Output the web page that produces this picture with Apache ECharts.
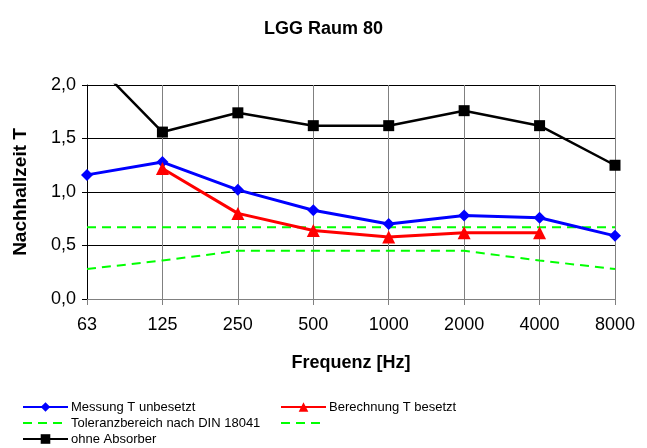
<!DOCTYPE html>
<html>
<head>
<meta charset="utf-8">
<script src="https://cdn.jsdelivr.net/npm/echarts@6/dist/echarts.min.js"></script>
<style>
html,body{margin:0;padding:0;background:#fff;}
#c{width:647px;height:448px;}
</style>
</head>
<body>
<div id="c"></div>
<script>
var categories = ['63','125','250','500','1000','2000','4000','8000'];
var messung = [1.16, 1.28, 1.02, 0.83, 0.70, 0.78, 0.76, 0.59];
var berechnung = ['-', 1.22, 0.80, 0.64, 0.58, 0.62, 0.62, '-'];
var tolUnten = [0.28, 0.36, 0.45, 0.45, 0.45, 0.45, 0.36, 0.28];
var tolOben = [0.67, 0.67, 0.67, 0.67, 0.67, 0.67, 0.67, 0.67];
var ohneAbsorber = [2.28, 1.56, 1.74, 1.62, 1.62, 1.76, 1.62, 1.25];

var FF = "'Liberation Sans', Arial, sans-serif";
var chart = echarts.init(document.getElementById('c'), null, {renderer:'canvas'});

function leg(name, left, centerY, extra) {
  var item = {name: name};
  if (extra) { for (var k in extra) item[k] = extra[k]; }
  return {
    orient: 'horizontal', left: left, top: centerY - 8, padding: 0,
    itemWidth: 45, itemHeight: 12, itemGap: 0,
    textStyle: {fontFamily: FF, fontSize: 13, color: '#000', padding: [0, 0, 0, -2], lineHeight: 16},
    selectedMode: false,
    data: [item]
  };
}
var hideSym = {itemStyle: {opacity: 0}};

var option = {
  animation: false,
  backgroundColor: '#fff',
  title: {
    text: 'LGG Raum 80', left: 'center', top: 15,
    textStyle: {fontFamily: FF, fontSize: 18, fontWeight: 'bold', color: '#000'}
  },
  grid: {left: 87, right: 32, top: 85, bottom: 149, containLabel: false},
  legend: [
    leg('Messung T unbesetzt', 22, 407),
    leg('Toleranzbereich nach DIN 18041', 22, 423, hideSym),
    leg('ohne Absorber', 22, 439),
    leg('Berechnung T besetzt', 280, 407),
    leg(' ', 280, 423, hideSym)
  ],
  xAxis: {
    type: 'category', data: categories, boundaryGap: false,
    name: 'Frequenz [Hz]', nameLocation: 'middle', nameGap: 55,
    nameTextStyle: {fontFamily: FF, fontSize: 18, fontWeight: 'bold', color: '#000'},
    axisLine: {show: true, lineStyle: {color: '#808080', width: 1}},
    axisTick: {show: true, alignWithLabel: true, length: 6, lineStyle: {color: '#808080'}},
    axisLabel: {fontFamily: FF, fontSize: 18, color: '#000', margin: 17},
    splitLine: {show: true, lineStyle: {color: '#808080', width: 1}}
  },
  yAxis: {
    type: 'value', min: 0, max: 2, interval: 0.5,
    name: 'Nachhallzeit T', nameLocation: 'middle', nameGap: 57,
    nameTextStyle: {fontFamily: FF, fontSize: 19, fontWeight: 'bold', color: '#000'},
    axisLine: {show: true, lineStyle: {color: '#000', width: 1}},
    axisTick: {show: true, length: 5, lineStyle: {color: '#000'}},
    axisLabel: {fontFamily: FF, fontSize: 18, color: '#000', margin: 11,
      formatter: function(v){ return v.toFixed(1).replace('.', ','); }},
    splitLine: {show: true, lineStyle: {color: '#000', width: 1}}
  },
  series: [
    {
      name: 'Toleranzbereich nach DIN 18041', type: 'line', data: tolUnten,
      symbol: 'none', lineStyle: {color: '#00ff00', width: 2, type: [9, 6]},
      itemStyle: {color: '#00ff00'}, z: 2
    },
    {
      name: ' ', type: 'line', data: tolOben,
      symbol: 'none', lineStyle: {color: '#00ff00', width: 2, type: [9, 6]},
      itemStyle: {color: '#00ff00'}, z: 2
    },
    {
      name: 'ohne Absorber', type: 'line', data: ohneAbsorber, clip: true,
      symbol: 'rect', symbolSize: 11,
      lineStyle: {color: '#000', width: 2.5}, itemStyle: {color: '#000'}, z: 3
    },
    {
      name: 'Messung T unbesetzt', type: 'line', data: messung,
      symbol: 'diamond', symbolSize: 12,
      lineStyle: {color: '#0000ff', width: 3}, itemStyle: {color: '#0000ff'}, z: 4
    },
    {
      name: 'Berechnung T besetzt', type: 'line', data: berechnung,
      symbol: 'triangle', symbolSize: 13,
      lineStyle: {color: '#ff0000', width: 3}, itemStyle: {color: '#ff0000'}, z: 5
    }
  ]
};
chart.setOption(option);
</script>
</body>
</html>
